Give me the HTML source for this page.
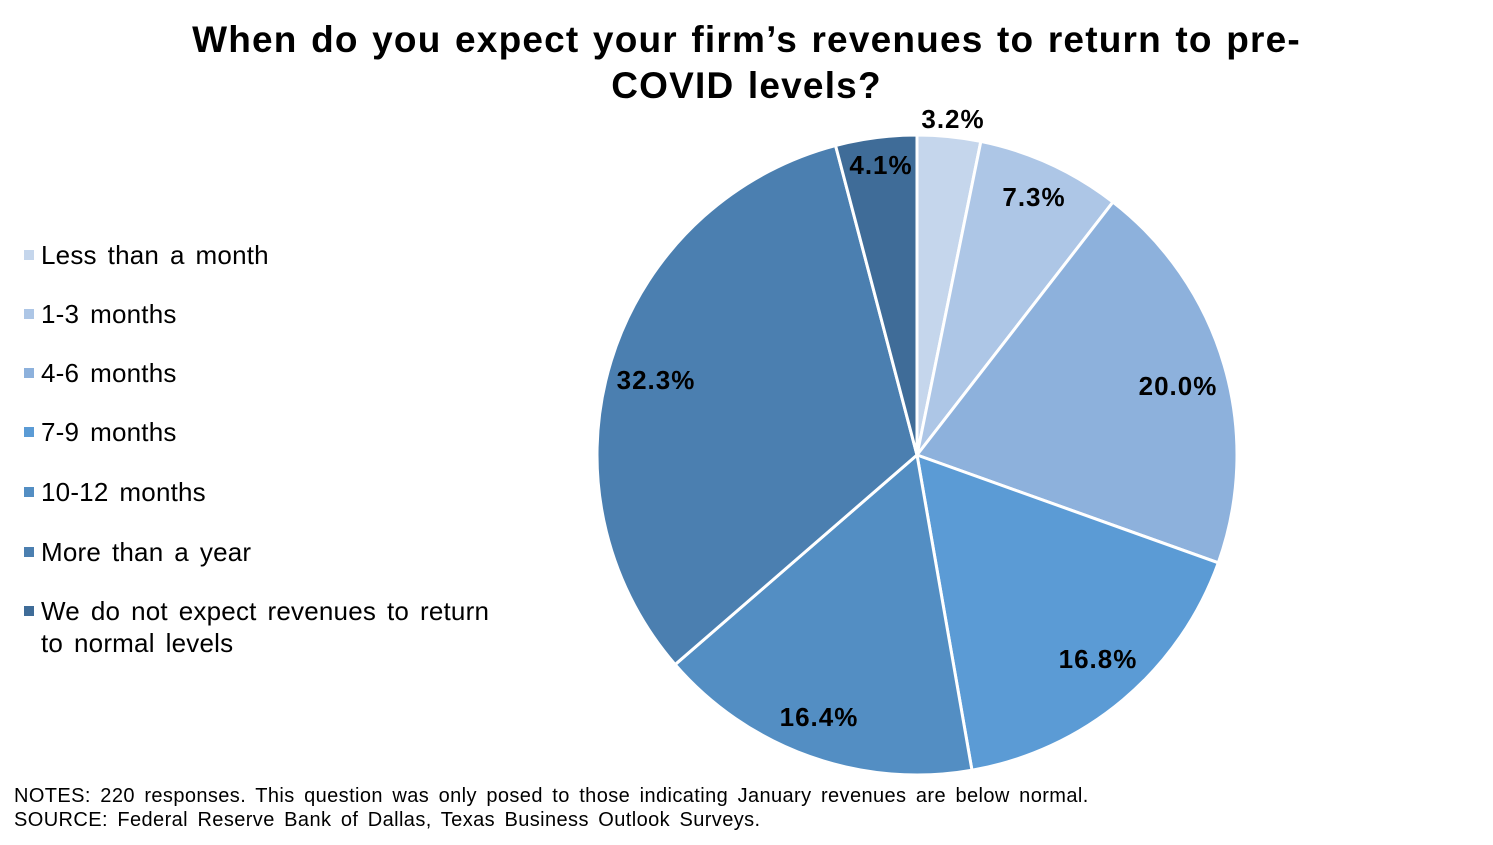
<!DOCTYPE html>
<html><head><meta charset="utf-8"><style>
body{margin:0;width:1493px;height:845px;background:#fff;font-family:"Liberation Sans",Arial,sans-serif;position:relative;overflow:hidden}
.t{position:absolute;left:0;width:1493px;text-align:center;font-weight:bold;font-size:37px;line-height:46px;top:17px;color:#000;letter-spacing:1.2px;word-spacing:2px}
.lg{position:absolute;left:24px;font-size:26px;color:#000;line-height:32px;word-spacing:3.5px;letter-spacing:0.2px}
.lg i{position:absolute;left:0;top:11px;width:10px;height:10px}
.lg span{display:block;margin-left:17px}
.n{position:absolute;left:14px;font-size:20px;line-height:24px;letter-spacing:0.4px;word-spacing:3.5px}
</style></head><body>
<div class="t">When do you expect your firm’s revenues to return to pre-<br>COVID levels?</div>
<div class="lg" style="top:239px"><i style="background:#c5d6ec"></i><span>Less than a month</span></div>
<div class="lg" style="top:298px"><i style="background:#adc6e6"></i><span>1-3 months</span></div>
<div class="lg" style="top:357px"><i style="background:#8db1dc"></i><span>4-6 months</span></div>
<div class="lg" style="top:416px"><i style="background:#5b9bd5"></i><span>7-9 months</span></div>
<div class="lg" style="top:476px"><i style="background:#538ec3"></i><span>10-12 months</span></div>
<div class="lg" style="top:536px"><i style="background:#4b7fb0"></i><span>More than a year</span></div>
<div class="lg" style="top:595px"><i style="background:#3f6c98"></i><span>We do not expect revenues to return<br>to normal levels</span></div>
<svg id="s" width="1493" height="845" style="position:absolute;left:0;top:0"></svg>
<div class="n" style="top:784px">NOTES: 220 responses. This question was only posed to those indicating January revenues are below normal.</div>
<div class="n" style="top:808px">SOURCE: Federal Reserve Bank of Dallas, Texas Business Outlook Surveys.</div>
<script>
var v=[3.2,7.3,20.0,16.8,16.4,32.3,4.1],c=["#c5d6ec","#adc6e6","#8db1dc","#5b9bd5","#538ec3","#4b7fb0","#3f6c98"];
var L=[[953,119],[1034,197],[1178,386],[1098,659],[819,717],[656,380],[881,165]];
var cx=917,cy=455,r=320,tot=100.1,a=0,h="";
function p(t,R){return [cx+R*Math.sin(t),cy-R*Math.cos(t)];}
for(var i=0;i<7;i++){var a0=a/tot*2*Math.PI;a+=v[i];var a1=a/tot*2*Math.PI;
var P=p(a0,r),Q=p(a1,r);
h+='<path d="M'+cx+','+cy+'L'+P[0]+','+P[1]+'A'+r+','+r+' 0 '+((a1-a0)>Math.PI?1:0)+' 1 '+Q[0]+','+Q[1]+'Z" fill="'+c[i]+'" stroke="#fff" stroke-width="3"/>';}
for(var i=0;i<7;i++)h+='<text x="'+L[i][0]+'" y="'+(L[i][1]+9)+'" text-anchor="middle" font-family="Liberation Sans,Arial,sans-serif" font-weight="bold" font-size="26" letter-spacing="1">'+v[i].toFixed(1)+'%</text>';
document.getElementById("s").innerHTML=h;
</script>
</body></html>
